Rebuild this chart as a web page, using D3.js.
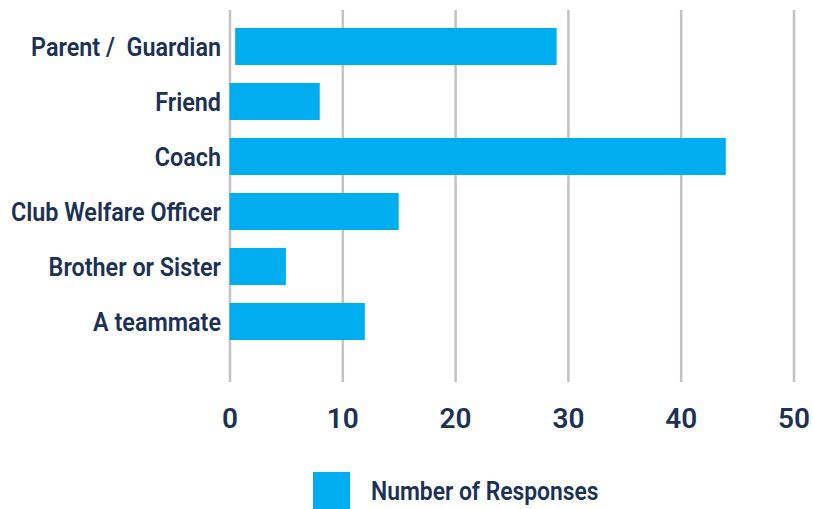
<!DOCTYPE html>
<html>
<head>
<meta charset="utf-8">
<script src="https://cdn.jsdelivr.net/npm/d3@7/dist/d3.min.js"></script>
<style>
  html, body { margin: 0; padding: 0; background: #ffffff; }
  svg { display: block; }
  text { font-family: Roboto, "Noto Sans", sans-serif; fill: #1b3158; white-space: pre; }
</style>
</head>
<body>
<svg id="chart" width="813" height="509"></svg>
<script>
// Who respondents would talk to, top to bottom
const categories = ["Parent /  Guardian", "Friend", "Coach", "Club Welfare Officer", "Brother or Sister", "A teammate"];
const responses = [29, 8, 44, 15, 5, 12];
const barStart = [0.5, 0, 0, 0, 0, 0];
const xTicks = [0, 10, 20, 30, 40, 50];
const seriesName = "Number of Responses";

const barColor = "#00aeef";
const gridColor = "#c3c3c5";
const narrow = 0.935; // slightly condensed lettering

const svg = d3.select("#chart");

const x = d3.scaleLinear().domain([0, 50]).range([229.5, 793.5]);
const y = d3.scaleBand().domain(categories).range([19, 349]).paddingInner(0.327).paddingOuter(0.1635);

const gridTop = 10, gridBottom = 382;

// vertical gridlines + value labels
const xAxis = d3.axisBottom(x)
  .tickValues(xTicks)
  .tickSizeInner(-(gridBottom - gridTop))
  .tickSizeOuter(0)
  .tickPadding(26)
  .tickFormat(d3.format("d"));

const gx = svg.append("g")
  .attr("transform", `translate(0,${gridBottom})`)
  .call(xAxis);
gx.select(".domain").remove();
gx.selectAll(".tick line").attr("stroke", gridColor).attr("stroke-width", 2.5);
gx.selectAll(".tick text")
  .attr("fill", "#1b3158")
  .style("font-size", "28px")
  .style("font-weight", 600);

// bars
svg.append("g").selectAll("rect")
  .data(categories)
  .join("rect")
  .attr("x", (d, i) => x(barStart[i]))
  .attr("y", d => y(d))
  .attr("width", (d, i) => x(responses[i]) - x(barStart[i]))
  .attr("height", y.bandwidth())
  .attr("fill", barColor);

// category labels
svg.append("g").selectAll("text")
  .data(categories)
  .join("text")
  .attr("transform", d => `translate(221,${y(d) + y.bandwidth() / 2}) scale(${narrow},1)`)
  .attr("dy", "0.38em")
  .attr("text-anchor", "end")
  .style("font-size", "25px")
  .style("font-weight", 600)
  .text(d => d);

// legend
const legend = svg.append("g").attr("transform", "translate(313,472)");
legend.append("rect")
  .attr("width", 37)
  .attr("height", 40)
  .attr("fill", barColor);
legend.append("text")
  .attr("transform", `translate(58,28) scale(0.915,1)`)
  .style("font-size", "25px")
  .style("font-weight", 600)
  .text(seriesName);
</script>
</body>
</html>
